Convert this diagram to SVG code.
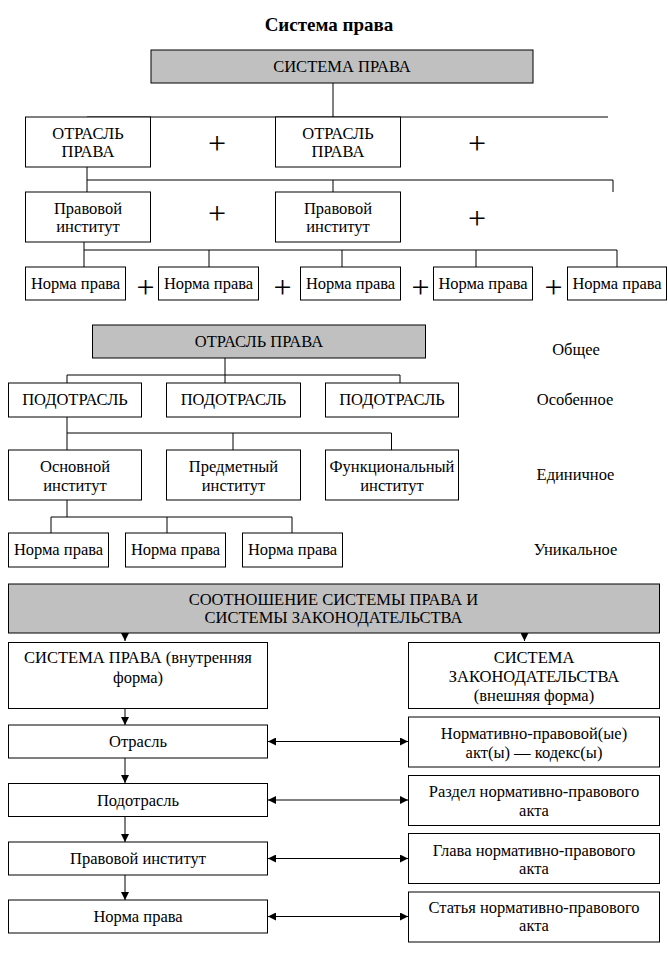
<svg xmlns="http://www.w3.org/2000/svg" width="668" height="959" viewBox="0 0 668 959">
<defs>
<style>
.b{fill:#fff;stroke:#000;stroke-width:1}
.g{fill:#c0c0c0;stroke:#000;stroke-width:1}
.t{font-family:"Liberation Serif","Times New Roman",serif;font-size:16.5px;fill:#000;text-anchor:middle;dominant-baseline:central}
.p{font-family:"Liberation Serif","Times New Roman",serif;font-size:32px;fill:#000;text-anchor:middle;dominant-baseline:central}
.h{font-family:"Liberation Serif","Times New Roman",serif;font-size:19px;font-weight:bold;fill:#000;text-anchor:middle}
.l{fill:none;stroke:#000;stroke-width:1}
</style>
<marker id="ah" markerWidth="8" markerHeight="8" refX="8" refY="4" orient="auto-start-reverse" markerUnits="userSpaceOnUse">
<path d="M0,0 L8,4 L0,8 Z" fill="#000"/>
</marker>
</defs>
<rect width="668" height="959" fill="#fff"/>
<text class="h" x="329" y="31">Система права</text>

<g id="connectors">
<path class="l" d="M333,83V117M87,117H608"/>
<path class="l" d="M87,167V192M87,180H613M333,180V192M613,180V192"/>
<path class="l" d="M84,242V267M84,250H617M209,250V267M342,250V267M476,250V267M617,250V267"/>
<path class="l" d="M225,358V383M67,375H400M67,375V383M400,375V383"/>
<path class="l" d="M67,417V450M67,433H391.5M233,433V450M391.5,433V450"/>
<path class="l" d="M67,500V517M51,517H292M51,517V533M167,517V533M292,517V533"/>
<path class="l" d="M125,633V641" marker-end="url(#ah)"/>
<path class="l" d="M524.5,633V641" marker-end="url(#ah)"/>
<path class="l" d="M125,708V725" marker-end="url(#ah)"/>
<path class="l" d="M125,758V783" marker-end="url(#ah)"/>
<path class="l" d="M125,817V842" marker-end="url(#ah)"/>
<path class="l" d="M125,875V900" marker-end="url(#ah)"/>
<path class="l" d="M268,741.5H408" marker-start="url(#ah)" marker-end="url(#ah)"/>
<path class="l" d="M268,800H408" marker-start="url(#ah)" marker-end="url(#ah)"/>
<path class="l" d="M268,858.5H408" marker-start="url(#ah)" marker-end="url(#ah)"/>
<path class="l" d="M268,916.5H408" marker-start="url(#ah)" marker-end="url(#ah)"/>
</g>

<g id="n-sistema"><rect class="g" x="151" y="50" width="382" height="33"/><text class="t" x="342" y="66.5">СИСТЕМА ПРАВА</text></g>
<g id="n-otr1"><rect class="b" x="25.5" y="117" width="125" height="50"/><text class="t" x="88" y="133">ОТРАСЛЬ</text><text class="t" x="88" y="151">ПРАВА</text></g>
<g id="n-otr2"><rect class="b" x="275.5" y="117" width="125" height="50"/><text class="t" x="338" y="133">ОТРАСЛЬ</text><text class="t" x="338" y="151">ПРАВА</text></g>
<g id="plus1"><text class="p" x="217" y="143">+</text><text class="p" x="477" y="143">+</text></g>
<g id="n-inst1"><rect class="b" x="25.5" y="192" width="125" height="50"/><text class="t" x="88" y="208">Правовой</text><text class="t" x="88" y="226">институт</text></g>
<g id="n-inst2"><rect class="b" x="275.5" y="192" width="125" height="50"/><text class="t" x="338" y="208">Правовой</text><text class="t" x="338" y="226">институт</text></g>
<g id="plus2"><text class="p" x="217" y="213">+</text><text class="p" x="477" y="218">+</text></g>
<g id="n-norma1"><rect class="b" x="25.5" y="267" width="100" height="33"/><text class="t" x="75.5" y="283">Норма права</text></g>
<g id="n-norma2"><rect class="b" x="158.5" y="267" width="100" height="33"/><text class="t" x="208.5" y="283">Норма права</text></g>
<g id="n-norma3"><rect class="b" x="300.5" y="267" width="100" height="33"/><text class="t" x="350.5" y="283">Норма права</text></g>
<g id="n-norma4"><rect class="b" x="433.5" y="267" width="99" height="33"/><text class="t" x="483" y="283">Норма права</text></g>
<g id="n-norma5"><rect class="b" x="567.5" y="267" width="99" height="33"/><text class="t" x="617" y="283">Норма права</text></g>
<g id="plus3"><text class="p" x="145.5" y="287">+</text><text class="p" x="282.5" y="287">+</text><text class="p" x="420.5" y="287">+</text><text class="p" x="553.5" y="287">+</text></g>

<g id="n-otrasl"><rect class="g" x="92.5" y="325" width="333" height="33"/><text class="t" x="259" y="341.5">ОТРАСЛЬ ПРАВА</text></g>
<g id="n-pod1"><rect class="b" x="8.5" y="383" width="133" height="34"/><text class="t" x="75" y="399.5">ПОДОТРАСЛЬ</text></g>
<g id="n-pod2"><rect class="b" x="166.5" y="383" width="134" height="34"/><text class="t" x="233.5" y="399.5">ПОДОТРАСЛЬ</text></g>
<g id="n-pod3"><rect class="b" x="325.5" y="383" width="133" height="34"/><text class="t" x="392" y="399.5">ПОДОТРАСЛЬ</text></g>
<g id="n-osn"><rect class="b" x="8.5" y="450" width="133" height="50"/><text class="t" x="75" y="466">Основной</text><text class="t" x="75" y="485">институт</text></g>
<g id="n-pred"><rect class="b" x="166.5" y="450" width="134" height="50"/><text class="t" x="233.5" y="466">Предметный</text><text class="t" x="233.5" y="485">институт</text></g>
<g id="n-func"><rect class="b" x="325.5" y="450" width="133" height="50"/><text class="t" x="392" y="466">Функциональный</text><text class="t" x="392" y="485">институт</text></g>
<g id="n-nm1"><rect class="b" x="8.5" y="533" width="100" height="34"/><text class="t" x="58.5" y="549.5">Норма права</text></g>
<g id="n-nm2"><rect class="b" x="125.5" y="533" width="100" height="34"/><text class="t" x="175.5" y="549.5">Норма права</text></g>
<g id="n-nm3"><rect class="b" x="242.5" y="533" width="100" height="34"/><text class="t" x="292.5" y="549.5">Норма права</text></g>
<g id="labels"><text class="t" x="576" y="349">Общее</text><text class="t" x="575" y="399">Особенное</text><text class="t" x="575.5" y="474">Единичное</text><text class="t" x="575.5" y="549">Уникальное</text></g>

<g id="n-sootn"><rect class="g" x="8.5" y="584" width="651" height="49"/><text class="t" x="333.5" y="599.5">СООТНОШЕНИЕ СИСТЕМЫ ПРАВА И</text><text class="t" x="333.5" y="617.5">СИСТЕМЫ ЗАКОНОДАТЕЛЬСТВА</text></g>
<g id="n-sp"><rect class="b" x="8.5" y="642.5" width="259" height="66"/><text class="t" x="138" y="657">СИСТЕМА ПРАВА (внутренняя</text><text class="t" x="138" y="677">форма)</text></g>
<g id="n-sz"><rect class="b" x="408.5" y="642.5" width="251" height="66"/><text class="t" x="534" y="657">СИСТЕМА</text><text class="t" x="534" y="676">ЗАКОНОДАТЕЛЬСТВА</text><text class="t" x="534" y="695">(внешняя форма)</text></g>
<g id="n-l1"><rect class="b" x="8.5" y="725" width="259" height="33"/><text class="t" x="138" y="741.5">Отрасль</text></g>
<g id="n-l2"><rect class="b" x="8.5" y="783.5" width="259" height="33"/><text class="t" x="138" y="800">Подотрасль</text></g>
<g id="n-l3"><rect class="b" x="8.5" y="842" width="259" height="33"/><text class="t" x="138" y="858.5">Правовой институт</text></g>
<g id="n-l4"><rect class="b" x="8.5" y="900" width="259" height="33"/><text class="t" x="138" y="916.5">Норма права</text></g>
<g id="n-r1"><rect class="b" x="408.5" y="717" width="251" height="50"/><text class="t" x="534" y="733">Нормативно-правовой(ые)</text><text class="t" x="534" y="752">акт(ы) — кодекс(ы)</text></g>
<g id="n-r2"><rect class="b" x="408.5" y="775.5" width="251" height="50"/><text class="t" x="534" y="791">Раздел нормативно-правового</text><text class="t" x="534" y="810">акта</text></g>
<g id="n-r3"><rect class="b" x="408.5" y="833.5" width="251" height="50"/><text class="t" x="534" y="850">Глава нормативно-правового</text><text class="t" x="534" y="868">акта</text></g>
<g id="n-r4"><rect class="b" x="408.5" y="892" width="251" height="50"/><text class="t" x="534" y="907">Статья нормативно-правового</text><text class="t" x="534" y="925">акта</text></g>
</svg>
